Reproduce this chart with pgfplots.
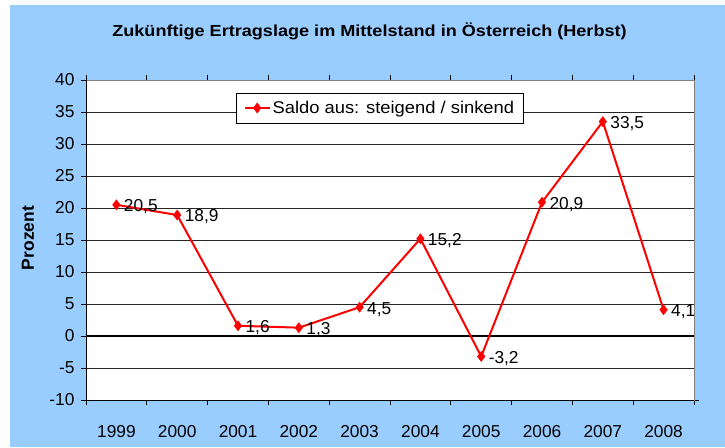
\documentclass[border=0pt]{standalone}
\usepackage{pgfplots}
\pgfplotsset{compat=1.18}
\usepackage{fontspec}
\setmainfont{Liberation Sans}
\newfontfamily\titlefont[FakeStretch=1.13]{Liberation Sans}
\newfontfamily\legfont[FakeStretch=1.08]{Liberation Sans}
\definecolor{bgblue}{RGB}{153,204,255}
\definecolor{xlred}{RGB}{255,0,0}
\begin{document}
\begin{tikzpicture}[x=1pt,y=1pt]
\fill[white] (0,0) rectangle (725,447);
\fill[bgblue] (10,0) rectangle (725,442);
\node[font=\titlefont\bfseries\fontsize{16}{19}\selectfont] at (369.5,416) {Zukünftige Ertragslage im Mittelstand in Österreich (Herbst)};
\begin{axis}[
  at={(86pt,47pt)}, anchor=south west, scale only axis,
  width=608pt, height=320pt,
  axis background/.style={fill=white},
  xmin=-0.5, xmax=9.5, ymin=-10, ymax=40,
  xtick={-0.5,0.5,...,9.5}, xticklabels={},
  extra x ticks={0,1,2,3,4,5,6,7,8,9},
  extra x tick labels={1999,2000,2001,2002,2003,2004,2005,2006,2007,2008},
  extra x tick style={major tick length=0pt, xticklabel style={yshift=-22pt}},
  ytick={-10,-5,...,40},
  extra y ticks={0}, extra y tick labels={},
  extra y tick style={grid style={black, line width=1.8pt}},
  tick align=outside, major tick length=5pt,
  tick style={black, line width=0.8pt},
  ymajorgrids, grid style={black!85, line width=0.7pt},
  axis line style={black!50, line width=0.8pt},
  tick label style={font=\fontsize{17.3}{20}\selectfont},
  yticklabel style={xshift=-3pt},
  ylabel={\bfseries Prozent},
  ylabel style={font=\fontsize{17.5}{20}\selectfont, at={(axis description cs:-0.0954,0.506)}, anchor=center},
  /pgf/number format/assume math mode=true,
  /pgf/number format/use comma,
  legend style={at={(axis description cs:0.4835,0.9125)}, anchor=center, draw=black, fill=white, line width=0.8pt,
    font=\legfont\fontsize{17}{20}\selectfont, inner xsep=7pt, inner ysep=6pt},
  legend image code/.code={
    \draw[#1, line width=1.8pt] (0pt,0pt) -- (25pt,0pt);
    \draw[#1, line width=1.8pt] plot coordinates {(12.5pt,0pt)};
  },
]
\addplot[color=xlred, line width=2pt, mark=diamond*, mark size=5pt,
  mark options={fill=xlred, line width=0.5pt},
  nodes near coords,
  nodes near coords style={anchor=west, xshift=4pt, yshift=-2pt, text=black,
    font=\fontsize{17.3}{20}\selectfont,
    /pgf/number format/.cd, fixed, precision=1, fixed zerofill, use comma}]
coordinates {
(0,20.5) (1,18.9) (2,1.6) (3,1.3) (4,4.5) (5,15.2) (6,-3.2) (7,20.9) (8,33.5) (9,4.1)
};
\addlegendentry{Saldo aus: steigend / sinkend}
\draw[black, line width=0.8pt] (rel axis cs:0,0) -- (rel axis cs:0,1);
\draw[black, line width=0.8pt] (rel axis cs:0,0) -- (rel axis cs:1,0);
\end{axis}
\fill[bgblue] (694.9,48) rectangle (725,380);
\draw[black!50, line width=0.8pt] (694,47) -- (694,367);
\pgfresetboundingbox
\useasboundingbox (0,0) rectangle (725,447);
\end{tikzpicture}
\end{document}
